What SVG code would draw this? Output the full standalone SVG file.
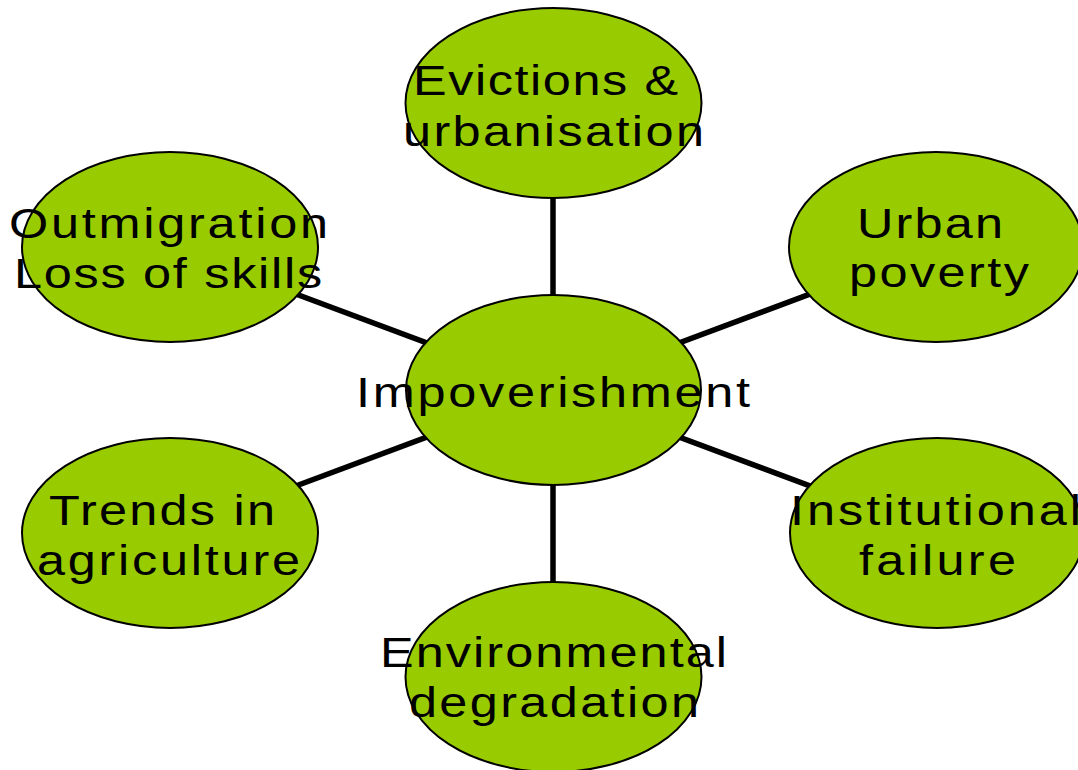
<svg xmlns="http://www.w3.org/2000/svg" width="1078" height="770" viewBox="0 0 1078 770">
<style>
.node ellipse{fill:#99CC00;stroke:#000;stroke-width:2}
.node text{font-family:"Liberation Sans","Arial",sans-serif;font-size:42px;fill:#000}
#connectors line{stroke:#000;stroke-width:5.5}
</style>
<rect width="1078" height="770" fill="#fff"/>
<g id="connectors">
<line x1="553" y1="390" x2="553" y2="103"/>
<line x1="553" y1="390" x2="553" y2="677"/>
<line x1="553" y1="390" x2="170" y2="247"/>
<line x1="553" y1="390" x2="936" y2="247"/>
<line x1="553" y1="390" x2="170" y2="533"/>
<line x1="553" y1="390" x2="936" y2="533"/>
</g>
<g id="n-center" class="node">
<ellipse cx="553.5" cy="390" rx="147.5" ry="95"/>
<text transform="matrix(1.2 0 0 1 0 0)" x="296.7" y="407" textLength="328.3" lengthAdjust="spacing">Impoverishment</text>
</g>
<g id="n-evictions" class="node">
<ellipse cx="553.5" cy="103" rx="148" ry="95"/>
<text transform="matrix(1.2 0 0 1 0 0)" x="344.2" y="95" textLength="220.8" lengthAdjust="spacing">Evictions &amp;</text>
<text transform="matrix(1.2 0 0 1 0 0)" x="335.8" y="146" textLength="250.8" lengthAdjust="spacing">urbanisation</text>
</g>
<g id="n-outmigration" class="node">
<ellipse cx="170" cy="247" rx="148" ry="95"/>
<text transform="matrix(1.2 0 0 1 0 0)" x="7.5" y="238" textLength="265.8" lengthAdjust="spacing">Outmigration</text>
<text transform="matrix(1.2 0 0 1 0 0)" x="11.7" y="288" textLength="256.7" lengthAdjust="spacing">Loss of skills</text>
</g>
<g id="n-urban" class="node">
<ellipse cx="936" cy="247" rx="147" ry="95"/>
<text transform="matrix(1.2 0 0 1 0 0)" x="714.2" y="238" textLength="121.7" lengthAdjust="spacing">Urban</text>
<text transform="matrix(1.2 0 0 1 0 0)" x="707.5" y="287" textLength="150" lengthAdjust="spacing">poverty</text>
</g>
<g id="n-trends" class="node">
<ellipse cx="170" cy="533" rx="148" ry="95"/>
<text transform="matrix(1.2 0 0 1 0 0)" x="40.8" y="525" textLength="188.3" lengthAdjust="spacing">Trends in</text>
<text transform="matrix(1.2 0 0 1 0 0)" x="30.8" y="575" textLength="219.2" lengthAdjust="spacing">agriculture</text>
</g>
<g id="n-institutional" class="node">
<ellipse cx="937" cy="533" rx="147" ry="95"/>
<text transform="matrix(1.2 0 0 1 0 0)" x="658.3" y="525" textLength="242.5" lengthAdjust="spacing">Institutional</text>
<text transform="matrix(1.2 0 0 1 0 0)" x="715.8" y="575" textLength="130.8" lengthAdjust="spacing">failure</text>
</g>
<g id="n-environmental" class="node">
<ellipse cx="553.5" cy="677" rx="148" ry="95"/>
<text transform="matrix(1.2 0 0 1 0 0)" x="316.7" y="667" textLength="289.2" lengthAdjust="spacing">Environmental</text>
<text transform="matrix(1.2 0 0 1 0 0)" x="340.8" y="717" textLength="241.7" lengthAdjust="spacing">degradation</text>
</g>
</svg>
